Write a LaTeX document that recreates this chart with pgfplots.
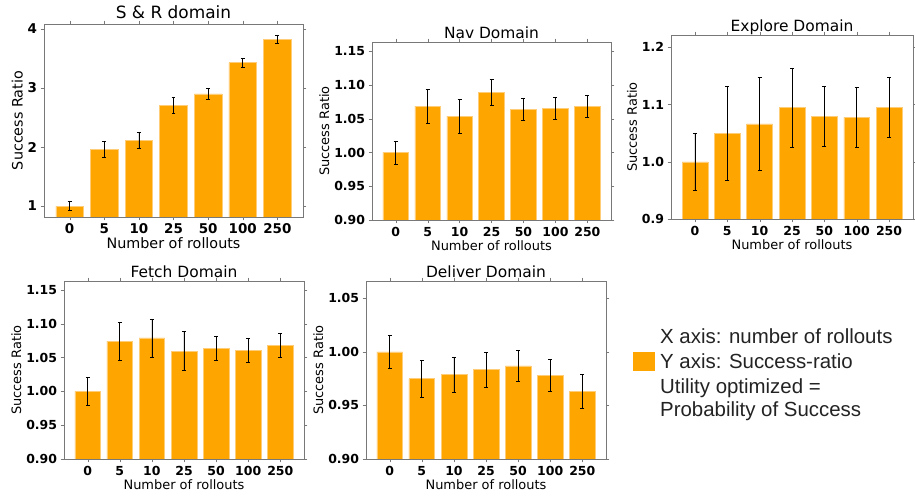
\documentclass[border=0pt]{standalone}
\usepackage{pgfplots}
\pgfplotsset{compat=1.18}
\usepackage{fontspec}
\setmainfont{DejaVu Sans}
\newfontfamily\legfont{Liberation Sans}
\definecolor{barorange}{RGB}{255,165,0}
\definecolor{baredge}{RGB}{255,205,120}
\definecolor{framegray}{RGB}{120,120,120}
\definecolor{legtext}{RGB}{35,35,35}

\pgfplotsset{
  panel/.style={
    scale only axis, ybar, bar width=0.8,
    xmin=-0.74, xmax=6.74, xtick={0,...,6}, xticklabels={0,5,10,25,50,100,250},
    axis line style={framegray}, tick style={framegray}, tick align=outside,
    major tick length=3.5pt,
    xlabel={Number of rollouts}, ylabel={Success Ratio},
    /pgf/number format/assume math mode=true,
    ticklabel style={font=\bfseries\fontsize{12.5}{13}\selectfont},
    label style={font=\fontsize{13}{14}\selectfont},
    title style={font=\fontsize{15.5}{16}\selectfont, at={(0.5,1)}, anchor=base, yshift=-2pt},
    xlabel style={yshift=3pt},
    ylabel style={yshift=-2pt},
  },
  bars/.style={
    fill=barorange, draw=baredge, line width=0.5pt,
    error bars/.cd, y dir=both, y explicit,
    error bar style={black, line width=0.7pt},
    error mark options={rotate=90, black, mark size=2pt, line width=0.6pt},
  },
}

\begin{document}
\begin{tikzpicture}
\useasboundingbox (0,0) rectangle (915bp,496bp);

% S & R domain
\begin{axis}[panel, at={(44bp,279bp)}, anchor=south west, width=259bp, height=193bp,
  ymin=0.814, ymax=4.085, ytick={1,2,3,4},
  title={S \& R domain}, title style={font=\fontsize{17}{18}\selectfont, yshift=2pt},
  ticklabel style={font=\bfseries\fontsize{13.5}{14}\selectfont},
  label style={font=\fontsize{14.4}{15}\selectfont}]
\addplot[bars] coordinates {
  (0,1.00) +- (0,0.08)
  (1,1.96) +- (0,0.14)
  (2,2.11) +- (0,0.14)
  (3,2.71) +- (0,0.14)
  (4,2.90) +- (0,0.09)
  (5,3.43) +- (0,0.08)
  (6,3.83) +- (0,0.07)
};
\end{axis}

% Nav Domain
\begin{axis}[panel, at={(372bp,276bp)}, anchor=south west, width=239bp, height=178bp,
  ymin=0.9, ymax=1.164, ytick={0.9,0.95,1,1.05,1.1,1.15},
  yticklabels={0.90,0.95,1.00,1.05,1.10,1.15},
  title={Nav Domain}]
\addplot[bars] coordinates {
  (0,1.000) +- (0,0.017)
  (1,1.069) +- (0,0.025)
  (2,1.054) +- (0,0.025)
  (3,1.089) +- (0,0.019)
  (4,1.064) +- (0,0.016)
  (5,1.066) +- (0,0.016)
  (6,1.069) +- (0,0.016)
};
\end{axis}

% Explore Domain
\begin{axis}[panel, at={(671bp,277bp)}, anchor=south west, width=242bp, height=184bp,
  ymin=0.9, ymax=1.2215, ytick={0.9,1,1.1,1.2},
  yticklabels={0.9,1.0,1.1,1.2},
  title={Explore Domain}]
\addplot[bars] coordinates {
  (0,1.000) +- (0,0.050)
  (1,1.049) +- (0,0.082)
  (2,1.066) +- (0,0.081)
  (3,1.095) +- (0,0.069)
  (4,1.079) +- (0,0.052)
  (5,1.078) +- (0,0.052)
  (6,1.095) +- (0,0.052)
};
\end{axis}

% Fetch Domain
\begin{axis}[panel, at={(64bp,37bp)}, anchor=south west, width=240bp, height=178bp,
  ymin=0.9, ymax=1.163, ytick={0.9,0.95,1,1.05,1.1,1.15},
  yticklabels={0.90,0.95,1.00,1.05,1.10,1.15},
  title={Fetch Domain}]
\addplot[bars] coordinates {
  (0,1.000) +- (0,0.020)
  (1,1.074) +- (0,0.0275)
  (2,1.079) +- (0,0.028)
  (3,1.0595) +- (0,0.029)
  (4,1.064) +- (0,0.018)
  (5,1.0605) +- (0,0.018)
  (6,1.068) +- (0,0.018)
};
\end{axis}

% Deliver Domain
\begin{axis}[panel, at={(366bp,37bp)}, anchor=south west, width=240bp, height=178bp,
  ymin=0.9, ymax=1.066, ytick={0.9,0.95,1,1.05},
  yticklabels={0.90,0.95,1.00,1.05},
  title={Deliver Domain}]
\addplot[bars] coordinates {
  (0,1.000) +- (0,0.0156)
  (1,0.975) +- (0,0.017)
  (2,0.9786) +- (0,0.0167)
  (3,0.9833) +- (0,0.0164)
  (4,0.9868) +- (0,0.0147)
  (5,0.978) +- (0,0.015)
  (6,0.963) +- (0,0.016)
};
\end{axis}

% legend-like annotation
\fill[barorange] (633bp,125bp) rectangle (655bp,144bp);
\begin{scope}[every node/.style={anchor=base west, inner sep=0pt, text=legtext,
  font=\legfont\fontsize{20.5}{22}\selectfont}]
\node at (660bp,152bp) {X axis: number of rollouts};
\node at (660bp,127bp) {Y axis: Success-ratio};
\node at (660bp,102bp) {Utility optimized =};
\node at (660bp,79bp) {Probability of Success};
\end{scope}
\end{tikzpicture}
\end{document}
